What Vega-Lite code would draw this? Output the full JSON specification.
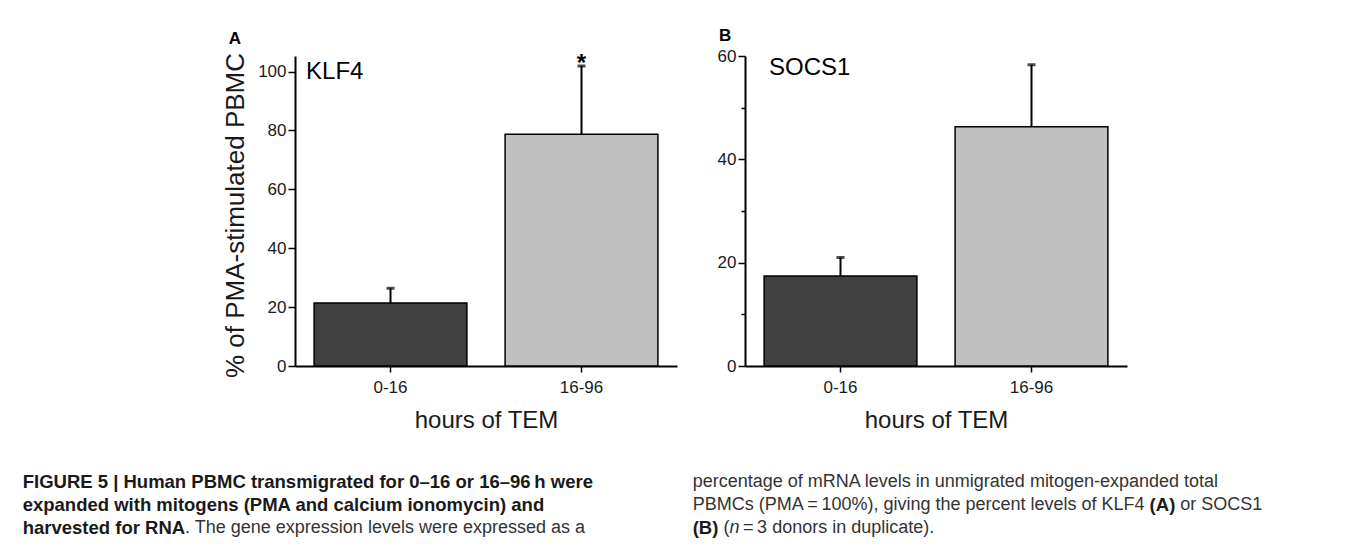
{
  "$schema": "https://vega.github.io/schema/vega-lite/v6.json",
  "background": "white",
  "padding": {"left": 4, "top": 27, "right": 0, "bottom": 0},
  "config": {
    "view": {"stroke": null},
    "font": "Liberation Sans",
    "axis": {"domainColor": "#000", "tickColor": "#000", "labelColor": "#1a1a1a", "titleColor": "#1a1a1a", "labelFont": "Liberation Sans", "titleFont": "Liberation Sans", "grid": false, "titleFontWeight": "normal", "domainWidth": 2, "tickWidth": 1.5},
    "text": {"font": "Liberation Sans"},
    "title": {"font": "Liberation Sans", "color": "#000"}
  },
  "spacing": 41,
  "vconcat": [
    {
      "spacing": 40,
      "hconcat": [
        {
          "width": 178, "height": 10,
          "data": {"values": [{}]},
          "mark": {"type": "point", "opacity": 0}
        },
        {
          "width": 382, "height": 310,
          "title": {"text": "A", "anchor": "start", "frame": "bounds", "fontSize": 17, "fontWeight": "bold", "offset": 4.5, "dx": 6},
          "data": {"values": [
            {"hours": "0-16", "mean": 21.4, "upper": 26.4, "sig": ""},
            {"hours": "16-96", "mean": 78.7, "upper": 101.9, "sig": "*"}
          ]},
          "encoding": {
            "x": {"field": "hours", "type": "nominal", "sort": ["0-16", "16-96"],
              "scale": {"paddingInner": 0.2, "paddingOuter": 0.1},
              "axis": {"title": "hours of TEM", "titleFontSize": 24, "labelFontSize": 17, "labelAngle": 0, "tickSize": 6, "labelPadding": 7, "titlePadding": 13}}
          },
          "layer": [
            {
              "mark": {"type": "bar", "stroke": "#000", "strokeWidth": 1.5},
              "encoding": {
                "y": {"field": "mean", "type": "quantitative", "scale": {"domain": [0, 105.3], "nice": false},
                  "axis": {"values": [0, 20, 40, 60, 80, 100], "title": "% of PMA-stimulated PBMC", "titleFontSize": 26, "titlePadding": 9, "titleY": 159, "labelFontSize": 17, "tickSize": 7, "labelPadding": 2}},
                "color": {"field": "hours", "type": "nominal", "scale": {"domain": ["0-16", "16-96"], "range": ["#404040", "#c0c0c0"]}, "legend": null}
              }
            },
            {
              "mark": {"type": "rule", "strokeWidth": 2, "color": "#000"},
              "encoding": {"y": {"field": "mean", "type": "quantitative"}, "y2": {"field": "upper"}}
            },
            {
              "mark": {"type": "tick", "color": "#000", "size": 8, "thickness": 3},
              "encoding": {"y": {"field": "upper", "type": "quantitative"}}
            },
            {
              "mark": {"type": "text", "fontSize": 24, "fontWeight": "bold", "baseline": "alphabetic", "dy": 5, "color": "#000"},
              "encoding": {"y": {"field": "upper", "type": "quantitative"}, "text": {"field": "sig"}}
            },
            {
              "data": {"values": [{"gene": "KLF4"}]},
              "mark": {"type": "text", "fontSize": 24, "align": "left", "baseline": "middle", "dx": -8, "color": "#000"},
              "encoding": {"x": {"datum": "0-16", "bandPosition": 0}, "y": {"datum": 100}, "text": {"field": "gene"}}
            }
          ]
        },
        {
          "width": 382, "height": 310,
          "title": {"text": "B", "anchor": "start", "frame": "bounds", "fontSize": 17, "fontWeight": "bold", "offset": 2, "dx": 2},
          "data": {"values": [
            {"hours": "0-16", "mean": 17.4, "upper": 21.0},
            {"hours": "16-96", "mean": 46.3, "upper": 58.3}
          ]},
          "encoding": {
            "x": {"field": "hours", "type": "nominal", "sort": ["0-16", "16-96"],
              "scale": {"paddingInner": 0.2, "paddingOuter": 0.1},
              "axis": {"title": "hours of TEM", "titleFontSize": 24, "labelFontSize": 17, "labelAngle": 0, "tickSize": 6, "labelPadding": 7, "titlePadding": 13}}
          },
          "layer": [
            {
              "mark": {"type": "bar", "stroke": "#000", "strokeWidth": 1.5},
              "encoding": {
                "y": {"field": "mean", "type": "quantitative", "scale": {"domain": [0, 60], "nice": false},
                  "axis": {"values": [0, 10, 20, 30, 40, 50, 60], "labelExpr": "datum.value % 20 === 0 ? datum.label : ''", "title": null, "labelFontSize": 17,
                    "tickSize": {"condition": {"test": "datum.value % 20 === 0", "value": 7}, "value": 4}, "labelPadding": 2}},
                "color": {"field": "hours", "type": "nominal", "scale": {"domain": ["0-16", "16-96"], "range": ["#404040", "#c0c0c0"]}, "legend": null}
              }
            },
            {
              "mark": {"type": "rule", "strokeWidth": 2, "color": "#000"},
              "encoding": {"y": {"field": "mean", "type": "quantitative"}, "y2": {"field": "upper"}}
            },
            {
              "mark": {"type": "tick", "color": "#000", "size": 8, "thickness": 3},
              "encoding": {"y": {"field": "upper", "type": "quantitative"}}
            },
            {
              "data": {"values": [{"gene": "SOCS1"}]},
              "mark": {"type": "text", "fontSize": 24, "align": "left", "baseline": "middle", "dx": 5, "color": "#000"},
              "encoding": {"x": {"datum": "0-16", "bandPosition": 0}, "y": {"datum": 57.7}, "text": {"field": "gene"}}
            }
          ]
        }
      ]
    },
    {
      "width": 707.4, "height": 46,
      "data": {"values": [
        {"part": "L1", "col": "left", "line": 1, "text": "FIGURE 5 | Human PBMC transmigrated for 0\u201316 or 16\u201396\u2009h were"},
        {"part": "L2", "col": "left", "line": 2, "text": "expanded with mitogens (PMA and calcium ionomycin) and"},
        {"part": "L3a", "col": "left", "line": 3, "text": "harvested for RNA"},
        {"part": "L3b", "col": "left", "line": 3, "text": ". The gene expression levels were expressed as a"},
        {"part": "R1", "col": "right", "line": 1, "text": "percentage of mRNA levels in unmigrated mitogen-expanded total"},
        {"part": "R2a", "col": "right", "line": 2, "text": "PBMCs (PMA\u2009=\u2009100%), giving the percent levels of KLF4"},
        {"part": "R2b", "col": "right", "line": 2, "text": "(A)"},
        {"part": "R2c", "col": "right", "line": 2, "text": "or SOCS1"},
        {"part": "R3a", "col": "right", "line": 3, "text": "(B)"},
        {"part": "R3b", "col": "right", "line": 3, "text": "("},
        {"part": "R3c", "col": "right", "line": 3, "text": "n"},
        {"part": "R3d", "col": "right", "line": 3, "text": "=\u20093 donors in duplicate)."}
      ]},
      "encoding": {
        "x": {"field": "col", "type": "nominal", "scale": {"type": "point", "padding": 0.0279, "domain": ["left", "right"]}, "axis": null},
        "y": {"field": "line", "type": "ordinal", "scale": {"type": "point", "padding": 0}, "axis": null},
        "text": {"field": "text"}
      },
      "layer": [
        {"transform": [{"filter": "indexof(['L1','L2','L3a','R3a'], datum.part) >= 0"}],
         "mark": {"type": "text", "align": "left", "baseline": "middle", "fontSize": 18.5, "fontWeight": "bold", "color": "#1a1a1a"}},
        {"transform": [{"filter": "indexof(['R1','R2a'], datum.part) >= 0"}],
         "mark": {"type": "text", "align": "left", "baseline": "middle", "fontSize": 18, "color": "#333"}},
        {"transform": [{"filter": "datum.part === 'L3b'"}],
         "mark": {"type": "text", "align": "left", "baseline": "middle", "fontSize": 18, "color": "#333", "dx": 162.4}},
        {"transform": [{"filter": "datum.part === 'R2b'"}],
         "mark": {"type": "text", "align": "left", "baseline": "middle", "fontSize": 18.5, "fontWeight": "bold", "color": "#1a1a1a", "dx": 456.9}},
        {"transform": [{"filter": "datum.part === 'R2c'"}],
         "mark": {"type": "text", "align": "left", "baseline": "middle", "fontSize": 18, "color": "#333", "dx": 487.6}},
        {"transform": [{"filter": "datum.part === 'R3b'"}],
         "mark": {"type": "text", "align": "left", "baseline": "middle", "fontSize": 18, "color": "#333", "dx": 30.7}},
        {"transform": [{"filter": "datum.part === 'R3c'"}],
         "mark": {"type": "text", "align": "left", "baseline": "middle", "fontSize": 18, "fontStyle": "italic", "color": "#333", "dx": 36.7}},
        {"transform": [{"filter": "datum.part === 'R3d'"}],
         "mark": {"type": "text", "align": "left", "baseline": "middle", "fontSize": 18, "color": "#333", "dx": 50.3}}
      ]
    }
  ]
}
